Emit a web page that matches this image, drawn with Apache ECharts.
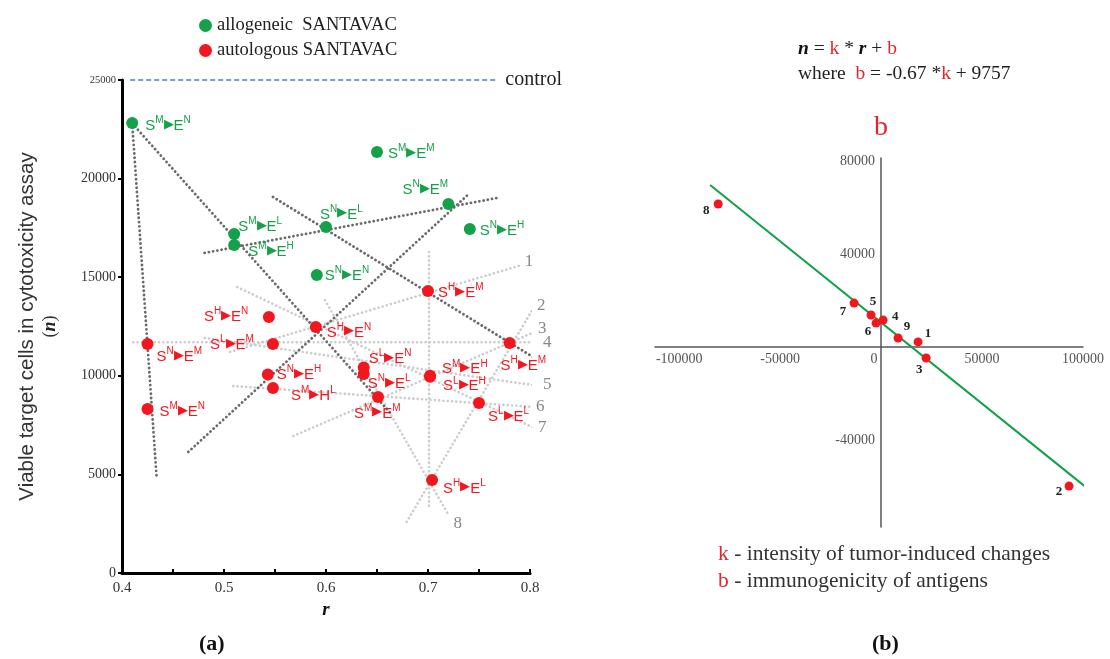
<!DOCTYPE html>
<html>
<head>
<meta charset="utf-8">
<title>SANTAVAC</title>
<script src="https://cdn.jsdelivr.net/npm/echarts@6.0.0/dist/echarts.min.js"></script>
<style>
  html, body { margin: 0; padding: 0; background: #fff; }
  #chart { width: 1110px; height: 659px; }
</style>
</head>
<body>
<div id="chart"></div>
<script>
// ---- panel (a): viable cells n vs r ----
const alloR = [0.410, 0.650, 0.720, 0.741, 0.600, 0.510, 0.510, 0.591];
const alloN = [22820, 21350, 18710, 17440, 17550, 17190, 16630, 15110];
const alloLabels = ["SM▶EN", "SM▶EM", "SN▶EM", "SN▶EH", "SN▶EL", "SM▶EL", "SM▶EH", "SN▶EN"];

const autoR = [0.700, 0.544, 0.590, 0.425, 0.548, 0.780, 0.637, 0.637, 0.543, 0.548, 0.651, 0.702, 0.702, 0.750, 0.425, 0.704];
const autoN = [14300, 12980, 12480, 11610, 11610, 11660, 10420, 10090, 10070, 9380, 8930, 10000, 9950, 8620, 8320, 4720];
const autoLabels = ["SH▶EM", "SH▶EN", "SH▶EN", "SN▶EM", "SL▶EM", "SH▶EM", "SL▶EN", "SN▶EL", "SN▶EH", "SM▶HL", "SM▶EM", "SM▶EH", "SL▶EH", "SL▶EL", "SM▶EN", "SH▶EL"];

const controlR = [0.408, 0.766];
const controlN = 25000;

// dotted fit lines [r1, n1, r2, n2]
const darkSegments = [
  [0.410, 22800, 0.434, 4800],
  [0.410, 22800, 0.665, 8000],
  [0.548, 19070, 0.803, 10950],
  [0.481, 16230, 0.768, 19020],
  [0.465, 6140, 0.741, 19270]
];
const lightSegments = [
  [0.506, 11210, 0.792, 15620],
  [0.679, 2590, 0.808, 13840],
  [0.568, 6950, 0.825, 12680],
  [0.411, 11700, 0.823, 11700],
  [0.481, 11920, 0.823, 9380],
  [0.509, 9480, 0.831, 8320],
  [0.513, 14500, 0.829, 6740],
  [0.599, 13840, 0.719, 3040],
  [0.701, 16280, 0.701, 3200]
];
const lightNumbers = ["1", "2", "3", "4", "5", "6", "7", "8", ""];

// ---- panel (b): b vs k ----
const pointIds = ["1", "2", "3", "4", "5", "6", "7", "8", "9"];
const kVals = [18300, 93100, 22300, 1000, -5000, -2500, -13400, -80700, 8400];
const bVals = [2200, -59800, -4700, 11600, 13800, 10300, 18900, 61500, 3900];
const fitK = [-84700, 102000];
const fitB = [69700, -60650];

// label placement (pixels from point centre), kept apart from the values
const alloOffsets = [[13, 1], [11, 0], [-46, -16], [10, 0], [-6, -14], [4, -9], [14, 5], [8, -1]];
const autoOffsets = [[10, 0], [-65, -2], [11, 4], [9, 11], [-63, -1], [-9, 21], [5, -10], [4, 8], [9, -1], [18, 6], [-24, 15], [12, -8], [13, 8], [9, 12], [12, 1], [11, 7]];
const numberOffsets = [[3, -3], [5, -5], [6, -5], [11, 0], [11, 0], [4, 0], [6, 1], [6, 10], [0, 0]];
const idOffsets = [[10, -8], [-10, 6], [-7, 12], [12, -3], [2, -13], [-8, 9], [-11, 9], [-12, 7], [9, -11]];

const SERIF = '"Liberation Serif", "DejaVu Serif", serif';
const SANS = '"Liberation Sans", Arial, sans-serif';
const GREEN = "#15a04a";
const RED = "#f2161f";

function pointText(t) {
  return "{b|" + t[0] + "}{p|" + t[1] + "}{a|▶}{b|" + t[3] + "}{p|" + t[4] + "}";
}
function richFor(color) {
  return {
    b: { fontSize: 15, fontFamily: SANS, color: color, lineHeight: 18, verticalAlign: "bottom" },
    p: { fontSize: 10, fontFamily: SANS, color: color, lineHeight: 11, verticalAlign: "top" },
    a: { fontSize: 13, fontFamily: SANS, color: color, lineHeight: 18 }
  };
}
function scatterData(rs, ns, labels, offsets, color) {
  return rs.map((r, i) => ({
    value: [r, ns[i]],
    label: {
      show: true,
      position: "inside",
      align: "left",
      verticalAlign: "middle",
      offset: offsets[i],
      formatter: pointText(labels[i]),
      rich: richFor(color)
    }
  }));
}

const series = [];

darkSegments.forEach((s) => {
  series.push({
    type: "line", xAxisIndex: 0, yAxisIndex: 0, clip: false, silent: true,
    symbol: "none", z: 2,
    lineStyle: { color: "#6a6a6a", width: 2.8, type: [0.1, 4.2], cap: "round" },
    data: [[s[0], s[1]], [s[2], s[3]]]
  });
});

lightSegments.forEach((s, i) => {
  series.push({
    type: "line", xAxisIndex: 0, yAxisIndex: 0, clip: false, silent: true,
    symbol: "none", z: 1,
    lineStyle: { color: "#cccccc", width: 2.6, type: [0.1, 4.2], cap: "round" },
    endLabel: {
      show: lightNumbers[i] !== "",
      formatter: lightNumbers[i],
      distance: 0,
      offset: numberOffsets[i],
      fontFamily: SERIF, fontSize: 17, color: "#888"
    },
    data: [[s[0], s[1]], [s[2], s[3]]]
  });
});

series.push({
  type: "line", xAxisIndex: 0, yAxisIndex: 0, clip: false, silent: true,
  symbol: "none", z: 2,
  lineStyle: { color: "#4f7cc4", width: 1.5, type: [5, 3] },
  endLabel: { show: true, formatter: "control", distance: 10, fontFamily: SERIF, fontSize: 20, color: "#222" },
  data: controlR.map((r) => [r, controlN])
});

series.push({
  name: "allogeneic  SANTAVAC",
  type: "scatter", xAxisIndex: 0, yAxisIndex: 0, symbolSize: 12, z: 5,
  itemStyle: { color: GREEN, opacity: 1 },
  data: scatterData(alloR, alloN, alloLabels, alloOffsets, GREEN)
});
series.push({
  name: "autologous SANTAVAC",
  type: "scatter", xAxisIndex: 0, yAxisIndex: 0, symbolSize: 12, z: 5,
  itemStyle: { color: RED, opacity: 1 },
  data: scatterData(autoR, autoN, autoLabels, autoOffsets, RED)
});

// panel (b)
series.push({
  type: "line", xAxisIndex: 1, yAxisIndex: 1, symbol: "none", silent: true, z: 3,
  lineStyle: { color: "#12a04a", width: 2 },
  data: fitK.map((k, i) => [k, fitB[i]])
});
series.push({
  type: "scatter", xAxisIndex: 1, yAxisIndex: 1, symbolSize: 9, z: 4,
  itemStyle: { color: RED, opacity: 1 },
  data: kVals.map((k, i) => ({
    value: [k, bVals[i]],
    label: {
      show: true, position: "inside", offset: idOffsets[i],
      formatter: pointIds[i], fontFamily: SERIF, fontSize: 13, fontWeight: "bold", color: "#222"
    }
  }))
});

const chart = echarts.init(document.getElementById("chart"));
chart.setOption({
  animation: false,
  backgroundColor: "#fff",
  title: [
    {
      text: "{bi|n} = {r|k} * {bi|r} + {r|b}\nwhere  {r|b} = -0.67 *{r|k} + 9757",
      left: 793, top: 31,
      textStyle: {
        fontFamily: SERIF, fontSize: 19.5, fontWeight: "normal", color: "#222", lineHeight: 25,
        rich: {
          bi: { fontFamily: SERIF, fontSize: 19.5, fontStyle: "italic", fontWeight: "bold", color: "#111", lineHeight: 25 },
          r: { fontFamily: SERIF, fontSize: 19.5, color: "#e0262b", lineHeight: 25 }
        }
      }
    },
    {
      text: "{r|k} - intensity of tumor-induced changes\n{r|b} - immunogenicity of antigens",
      left: 713, top: 536,
      textStyle: {
        fontFamily: SERIF, fontSize: 21.5, fontWeight: "normal", color: "#333", lineHeight: 27,
        rich: { r: { fontFamily: SERIF, fontSize: 21.5, color: "#e0262b", lineHeight: 27 } }
      }
    },
    { text: "(a)", left: 194, top: 628, textStyle: { fontFamily: SERIF, fontSize: 22, fontWeight: "bold", color: "#111" } },
    { text: "(b)", left: 867, top: 628, textStyle: { fontFamily: SERIF, fontSize: 22, fontWeight: "bold", color: "#111" } }
  ],
  legend: {
    data: ["allogeneic  SANTAVAC", "autologous SANTAVAC"],
    orient: "vertical", left: 194, top: 11, itemGap: 6,
    itemWidth: 13, itemHeight: 13, icon: "circle",
    itemStyle: { opacity: 1 },
    textStyle: { fontFamily: SERIF, fontSize: 18.5, color: "#222" }
  },
  grid: [
    { left: 122, top: 80, width: 408, height: 493, outerBoundsMode: "none" },
    { left: 655, top: 158, width: 428, height: 369, outerBoundsMode: "none" }
  ],
  xAxis: [
    {
      type: "value", gridIndex: 0, min: 0.4, max: 0.8, interval: 0.05,
      name: "r", nameLocation: "middle", nameGap: 28,
      nameTextStyle: { fontFamily: SERIF, fontSize: 19, fontStyle: "italic", fontWeight: "bold", color: "#111" },
      axisLine: { lineStyle: { color: "#000", width: 3 } },
      axisTick: { inside: true, length: 4, lineStyle: { color: "#000", width: 2 } },
      axisLabel: {
        margin: 8, fontFamily: SERIF, fontSize: 15, color: "#333",
        formatter: (v) => (Math.round(v * 100) % 10 === 0 ? v.toFixed(1) : "")
      },
      splitLine: { show: false }
    },
    {
      type: "value", gridIndex: 1, min: -112000, max: 100000,
      position: "bottom", offset: -180,
      name: "k", nameLocation: "end", nameGap: 6,
      nameTextStyle: { fontFamily: SERIF, fontSize: 28, color: "#e0262b", verticalAlign: "bottom", padding: [0, 0, -8, 0] },
      axisLine: { onZero: false, lineStyle: { color: "#555", width: 1.5 } },
      axisTick: { show: false },
      axisLabel: {
        customValues: [-100000, -50000, 0, 50000, 100000],
        margin: 5, fontFamily: SERIF, fontSize: 14, color: "#555",
        formatter: (v) => (v === 0 ? "{z|0}" : String(v)),
        rich: { z: { fontFamily: SERIF, fontSize: 14, color: "#555", padding: [0, 14, 0, 0] } }
      },
      splitLine: { show: false }
    }
  ],
  yAxis: [
    {
      type: "value", gridIndex: 0, min: 0, max: 25000, interval: 5000,
      name: "Viable target cells in cytotoxicity assay\n{t|(}{n|n}{t|)}",
      nameLocation: "middle", nameRotate: 90, nameGap: 60,
      nameTextStyle: {
        fontFamily: SANS, fontSize: 20.5, color: "#333", lineHeight: 23,
        rich: {
          t: { fontFamily: SERIF, fontSize: 18, color: "#333", lineHeight: 23 },
          n: { fontFamily: SERIF, fontSize: 18, fontStyle: "italic", fontWeight: "bold", color: "#222", lineHeight: 23 }
        }
      },
      axisLine: { show: true, lineStyle: { color: "#000", width: 3 } },
      axisTick: { show: true, length: 4, lineStyle: { color: "#000", width: 2 } },
      axisLabel: {
        margin: 6, fontFamily: SERIF, fontSize: 14, color: "#333",
        formatter: (v) => (v === 25000 ? "{s|25000}" : String(v)),
        rich: { s: { fontFamily: SERIF, fontSize: 10.5, color: "#333" } }
      },
      splitLine: { show: false }
    },
    {
      type: "value", gridIndex: 1, min: -77400, max: 81300,
      position: "left", offset: -226,
      name: "b", nameLocation: "end", nameGap: 16,
      nameTextStyle: { fontFamily: SERIF, fontSize: 28, color: "#e0262b" },
      axisLine: { show: true, onZero: false, lineStyle: { color: "#555", width: 1.5 } },
      axisTick: { show: false },
      axisLabel: {
        customValues: [-40000, 40000, 80000],
        margin: 6, fontFamily: SERIF, fontSize: 14, color: "#555",
        formatter: (v) => String(v)
      },
      splitLine: { show: false }
    }
  ],
  series: series
});
window.addEventListener("resize", () => chart.resize());
</script>
</body>
</html>
